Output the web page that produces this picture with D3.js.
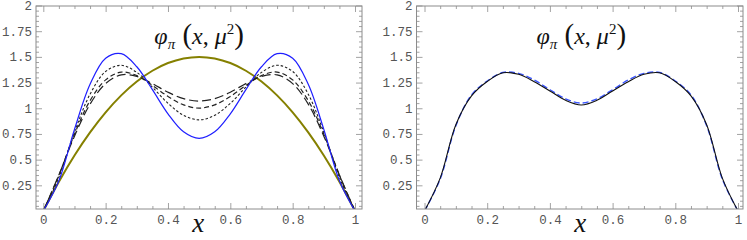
<!DOCTYPE html>
<html>
<head>
<meta charset="utf-8">
<script src="https://cdn.jsdelivr.net/npm/d3@7"></script>
<style>
  html, body { margin: 0; padding: 0; background: #fff; }
  svg { display: block; }
</style>
</head>
<body>
<div id="chart"></div>
<script>
// sample positions shared by every curve
const xs = [0, 0.05, 0.1, 0.15, 0.2, 0.25, 0.3, 0.35, 0.4, 0.45, 0.5,
            0.55, 0.6, 0.65, 0.7, 0.75, 0.8, 0.85, 0.9, 0.95, 1];

// left panel
const olive = [0, 0.285, 0.54, 0.765, 0.96, 1.125, 1.26, 1.365, 1.44, 1.485, 1.5,
               1.485, 1.44, 1.365, 1.26, 1.125, 0.96, 0.765, 0.54, 0.285, 0];
const blueLeft = [0, 0.294, 0.794, 1.233, 1.487, 1.531, 1.404, 1.181, 0.946, 0.771, 0.707,
                  0.771, 0.946, 1.181, 1.404, 1.531, 1.487, 1.233, 0.794, 0.294, 0];
const dotted = [0, 0.328, 0.767, 1.137, 1.358, 1.418, 1.349, 1.205, 1.048, 0.931, 0.887,
                0.931, 1.048, 1.205, 1.349, 1.418, 1.358, 1.137, 0.767, 0.328, 0];
const dashed = [0, 0.348, 0.747, 1.074, 1.276, 1.352, 1.318, 1.222, 1.115, 1.033, 1.001,
                1.033, 1.115, 1.222, 1.318, 1.352, 1.276, 1.074, 0.747, 0.348, 0];
const longDashed = [0, 0.351, 0.728, 1.04, 1.24, 1.325, 1.31, 1.24, 1.156, 1.093, 1.07,
                    1.093, 1.156, 1.24, 1.31, 1.325, 1.24, 1.04, 0.728, 0.351, 0];

// right panel
const blackRight = [0, 0.32, 0.84, 1.12, 1.26, 1.345, 1.33, 1.258, 1.168, 1.077, 1.032,
                    1.077, 1.168, 1.258, 1.33, 1.345, 1.26, 1.12, 0.84, 0.32, 0];
const blueRight = [0, 0.31, 0.83, 1.13, 1.265, 1.348, 1.34, 1.275, 1.18, 1.092, 1.05,
                   1.092, 1.18, 1.275, 1.34, 1.348, 1.265, 1.13, 0.83, 0.31, 0];

const xTicks = [0, 0.2, 0.4, 0.6, 0.8, 1];
const yTicks = [0.25, 0.5, 0.75, 1, 1.25, 1.5, 1.75, 2];
const xMinor = [0.05, 0.1, 0.15, 0.25, 0.3, 0.35, 0.45, 0.5, 0.55, 0.65, 0.7, 0.75, 0.85, 0.9, 0.95];
const yMinor = [0.05, 0.1, 0.15, 0.2, 0.3, 0.35, 0.4, 0.45, 0.55, 0.6, 0.65, 0.7, 0.8, 0.85, 0.9, 0.95,
                1.05, 1.1, 1.15, 1.2, 1.3, 1.35, 1.4, 1.45, 1.55, 1.6, 1.65, 1.7, 1.8, 1.85, 1.9, 1.95];

const W = 747, H = 240;
const svg = d3.select('#chart').append('svg')
  .attr('width', W)
  .attr('height', H);

const panels = [
  {
    frame: {left: 36, right: 362, top: 6, bottom: 209},
    x0: 43.3, x1: 355,
    series: [
      {values: olive, color: '#858000', width: 2},
      {values: longDashed, color: '#222', width: 1.2, dash: '9,4'},
      {values: dashed, color: '#222', width: 1.2, dash: '5,3'},
      {values: dotted, color: '#222', width: 1.1, dash: '2.5,2'},
      {values: blueLeft, color: '#1f1fff', width: 1.2}
    ]
  },
  {
    frame: {left: 416.5, right: 743, top: 6, bottom: 209},
    x0: 424.5, x1: 738,
    series: [
      {values: blueRight, color: '#3a55ff', width: 1.4, dash: '6,3'},
      {values: blackRight, color: '#111', width: 1.1}
    ]
  }
];

const frameColor = '#8c8c8c';
const labelFont = '"Liberation Mono", "DejaVu Sans Mono", monospace';
const mathFont = '"Liberation Serif", "Times New Roman", serif';

panels.forEach((p, pi) => {
  const f = p.frame;
  const x = d3.scaleLinear().domain([0, 1]).range([p.x0, p.x1]);
  const y = d3.scaleLinear().domain([0, 2]).range([211, 5.5]);

  const g = svg.append('g');

  const clipId = 'clip' + pi;
  svg.append('clipPath').attr('id', clipId)
    .append('rect')
    .attr('x', f.left).attr('y', f.top)
    .attr('width', f.right - f.left).attr('height', f.bottom - f.top);

  // curves
  const line = d3.line()
    .x((d, i) => x(xs[i]))
    .y(d => y(d))
    .curve(d3.curveCatmullRom.alpha(0.5));

  const curves = g.append('g').attr('clip-path', `url(#${clipId})`);
  p.series.forEach(s => {
    curves.append('path')
      .datum(s.values)
      .attr('fill', 'none')
      .attr('stroke', s.color)
      .attr('stroke-width', s.width)
      .attr('stroke-dasharray', s.dash || null)
      .attr('d', line);
  });

  // frame ticks on all four sides, pointing inward
  const styleAxis = sel => {
    sel.select('.domain').remove();
    sel.selectAll('.tick line').attr('stroke', frameColor).attr('stroke-width', 0.8);
    sel.selectAll('.tick text')
      .attr('fill', '#555')
      .style('font-family', labelFont)
      .style('font-size', '12.5px');
  };

  const fmt = d => d3.format('')(d);

  g.append('g').attr('transform', `translate(0,${f.bottom})`)
    .call(d3.axisBottom(x).tickValues(xTicks).tickSize(-6).tickSizeOuter(0).tickPadding(6).tickFormat(fmt))
    .call(styleAxis);
  g.append('g').attr('transform', `translate(0,${f.bottom})`)
    .call(d3.axisBottom(x).tickValues(xMinor).tickSize(-3).tickSizeOuter(0).tickFormat(''))
    .call(styleAxis);
  g.append('g').attr('transform', `translate(0,${f.top})`)
    .call(d3.axisTop(x).tickValues(xTicks).tickSize(-6).tickSizeOuter(0).tickFormat(''))
    .call(styleAxis);
  g.append('g').attr('transform', `translate(0,${f.top})`)
    .call(d3.axisTop(x).tickValues(xMinor).tickSize(-3).tickSizeOuter(0).tickFormat(''))
    .call(styleAxis);

  g.append('g').attr('transform', `translate(${f.left},0)`)
    .call(d3.axisLeft(y).tickValues(yTicks).tickSize(-6).tickSizeOuter(0).tickPadding(4).tickFormat(fmt))
    .call(styleAxis);
  g.append('g').attr('transform', `translate(${f.left},0)`)
    .call(d3.axisLeft(y).tickValues(yMinor).tickSize(-3).tickSizeOuter(0).tickFormat(''))
    .call(styleAxis);
  g.append('g').attr('transform', `translate(${f.right},0)`)
    .call(d3.axisRight(y).tickValues(yTicks).tickSize(-6).tickSizeOuter(0).tickFormat(''))
    .call(styleAxis);
  g.append('g').attr('transform', `translate(${f.right},0)`)
    .call(d3.axisRight(y).tickValues(yMinor).tickSize(-3).tickSizeOuter(0).tickFormat(''))
    .call(styleAxis);

  g.append('rect')
    .attr('x', f.left).attr('y', f.top)
    .attr('width', f.right - f.left).attr('height', f.bottom - f.top)
    .attr('fill', 'none')
    .attr('stroke', frameColor)
    .attr('stroke-width', 1);

  // title
  const cx = (p.x0 + p.x1) / 2;
  const title = g.append('text')
    .attr('x', cx).attr('y', 44)
    .attr('text-anchor', 'middle')
    .style('font-family', mathFont)
    .style('font-size', '24px')
    .attr('fill', '#111');
  title.append('tspan').style('font-style', 'italic').text('φ');
  title.append('tspan').style('font-style', 'italic').style('font-size', '15px').attr('dy', 5).text('π');
  title.append('tspan').attr('dy', -5).style('font-size', '29px').text(' (');
  title.append('tspan').style('font-style', 'italic').text('x');
  title.append('tspan').text(', ');
  title.append('tspan').style('font-style', 'italic').text('μ');
  title.append('tspan').style('font-size', '15px').attr('dy', -10).text('2');
  title.append('tspan').attr('dy', 10).style('font-size', '29px').text(')');

  // x axis label
  g.append('text')
    .attr('x', cx - 1).attr('y', 232)
    .attr('text-anchor', 'middle')
    .style('font-family', mathFont)
    .style('font-style', 'italic')
    .style('font-size', '27px')
    .attr('fill', '#111')
    .text('x');
});
</script>
</body>
</html>
